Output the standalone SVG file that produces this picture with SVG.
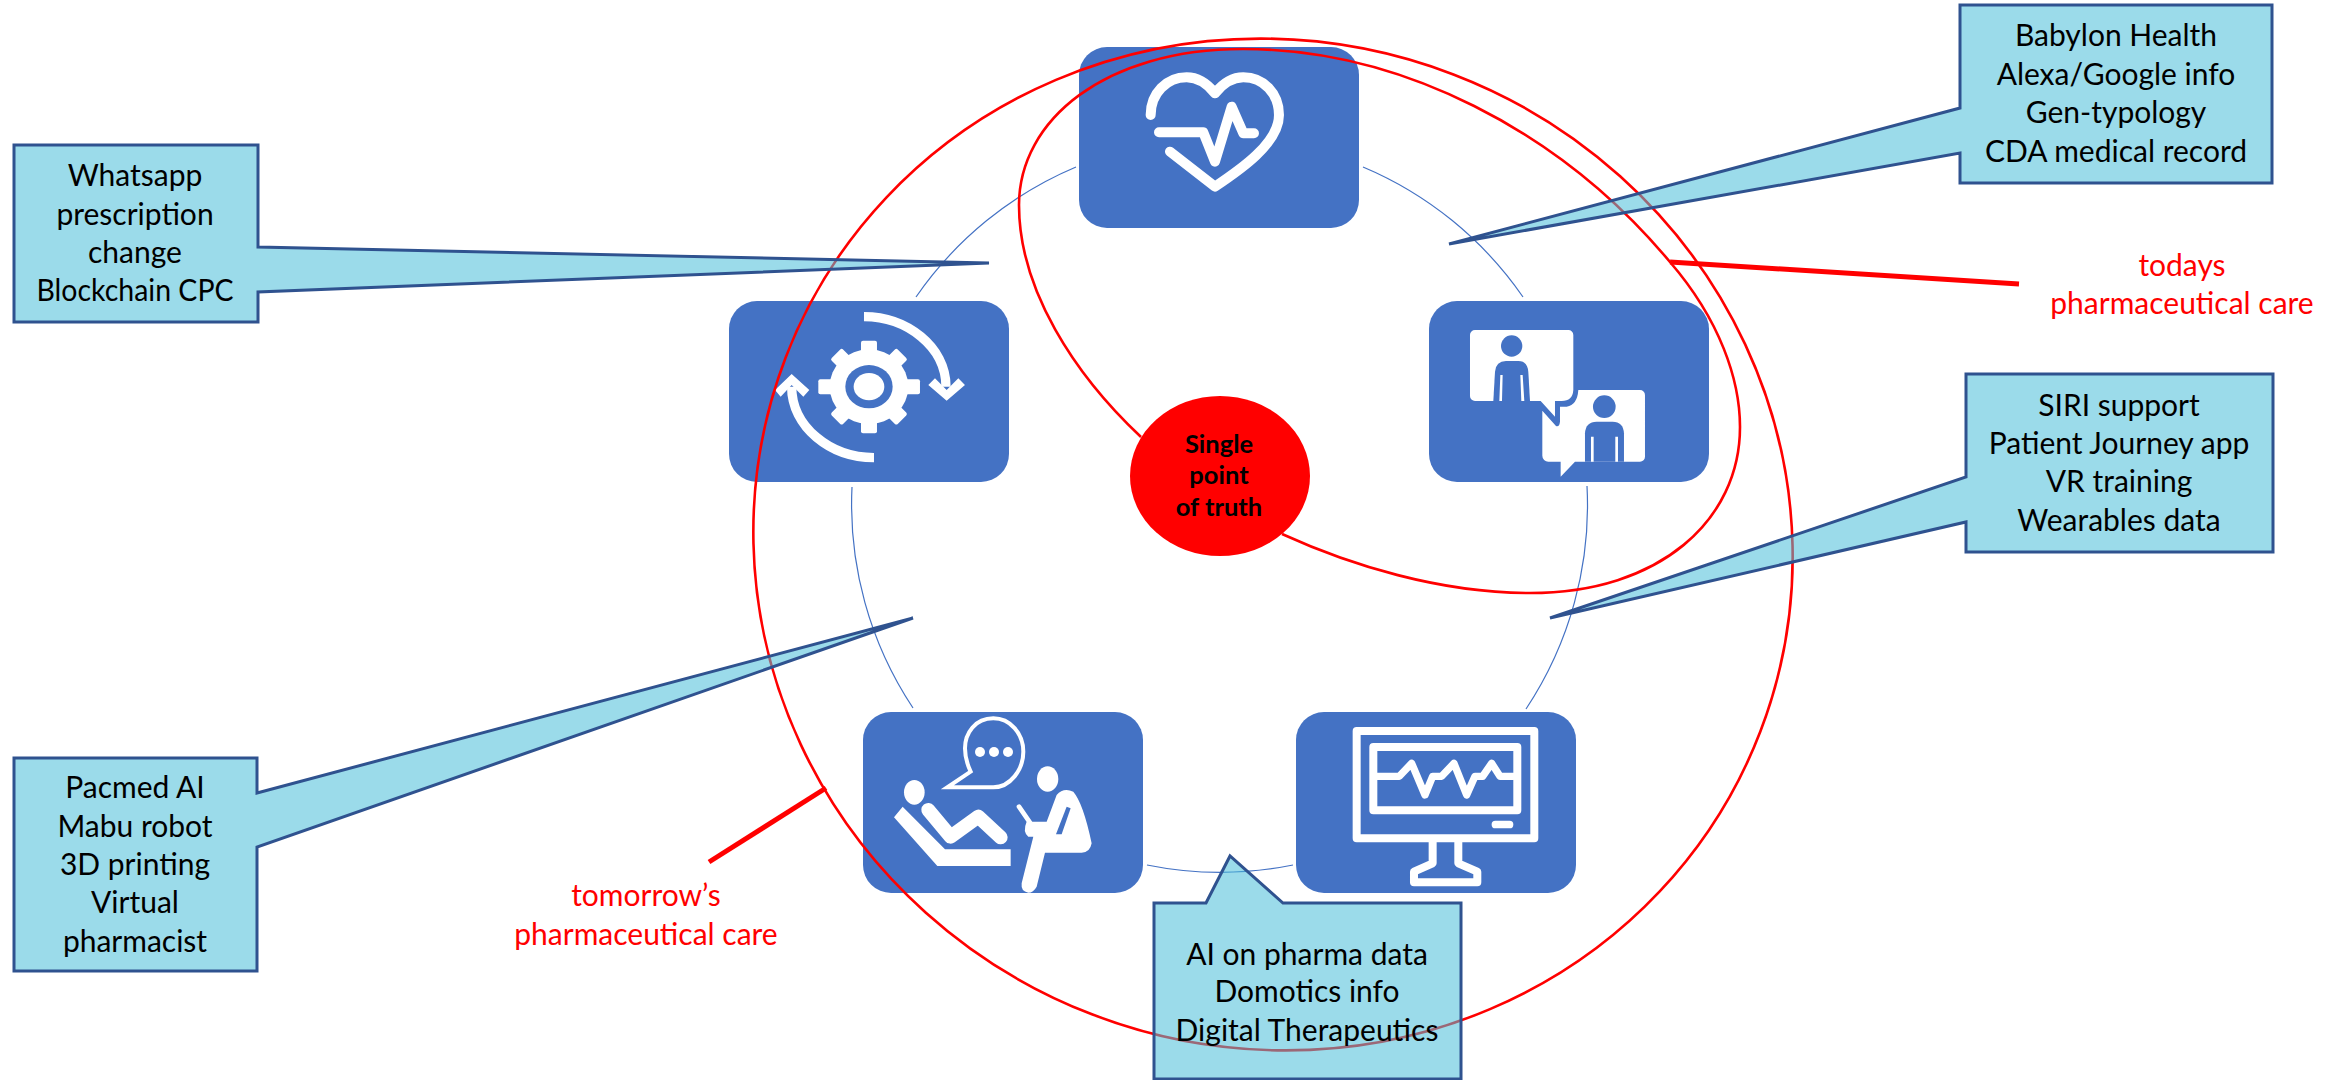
<svg xmlns="http://www.w3.org/2000/svg" width="2338" height="1080" viewBox="0 0 2338 1080">
<style>
.node{fill:#4472c4}
.ic{fill:#fff}
.icb{fill:#4472c4}
.ls{fill:none;stroke:#fff;stroke-linecap:round;stroke-linejoin:round}
.ring{fill:none;stroke:#4472c4;stroke-width:1.2}
.loop{fill:none;stroke:#f00;stroke-width:2.6}
.lead{stroke:#f00;stroke-width:5;fill:none}
.co{fill:#49bed9;fill-opacity:.55;stroke:#2f528f;stroke-width:3;stroke-linejoin:miter}
text{font-family:"Lato","Liberation Sans",sans-serif;text-anchor:middle}
.t{font-size:30px;fill:#000}
.r{font-size:30px;fill:#f00}
.b{font-size:25.5px;font-weight:700;fill:#000}
</style>
<rect width="2338" height="1080" fill="#fff"/>
<g id="connectors">
<path class="ring" d="M1363 167A368 368 0 0 1 1523 297"/>
<path class="ring" d="M1587 486A368 368 0 0 1 1526 709"/>
<path class="ring" d="M1293 865A368 368 0 0 1 1147 865"/>
<path class="ring" d="M913 708A368 368 0 0 1 852 487"/>
<path class="ring" d="M916 297A368 368 0 0 1 1076 167"/>
</g>
<g id="node-heart">
<rect class="node" x="1079" y="47" width="280" height="181" rx="28"/>
<g transform="translate(1060 30) scale(.3333)">
<path class="ls" stroke-width="30" d="M272 255C272 190 320 142 380 142C420 142 445 165 465 190C485 165 510 142 550 142C610 142 657 190 657 255C657 340 540 420 465 470L330 365"/>
<path class="ls" stroke-width="30" d="M297 307L430 307L465 395L515 230L550 310L582 310"/>
</g>
</g>
<g id="node-chat">
<rect class="node" x="1429" y="301" width="280" height="181" rx="28"/>
<g transform="translate(1420 290) scale(.3333)">
<path class="ic" d="M165 120H445a15 15 0 0 1 15 15V300Q458 333 425 333H405V380L362 333H165a15 15 0 0 1-15-15V135a15 15 0 0 1 15-15Z"/>
<circle class="icb" cx="275" cy="168" r="32"/>
<path class="icb" d="M220 333L225 245Q228 213 258 213H295Q322 213 325 245L330 333Z"/>
<path class="ic" d="M238 333L241 255H248L246 333ZM304 333L301 255H308L313 333Z"/>
<path class="ic" d="M475 300H660a15 15 0 0 1 15 15V500a15 15 0 0 1-15 15H465L422 560V515H385a18 18 0 0 1-18-18V362L408 408Q418 412 420 395V350H440Q472 345 475 300Z"/>
<circle class="icb" cx="553" cy="350" r="34"/>
<path class="icb" d="M495 515V430Q497 395 530 395H578Q610 395 612 430V515Z"/>
<path class="ic" d="M513 440H521V515H513ZM586 440H594V515H586Z"/>
</g>
</g>
<g id="node-gear">
<rect class="node" x="729" y="301" width="280" height="181" rx="28"/>
<g transform="translate(720 290) scale(.3333)">
<ellipse class="ic" cx="447" cy="290" rx="118" ry="112"/>
<g class="ic">
<rect x="423" y="152" width="48" height="278" rx="6"/>
<rect x="295" y="268" width="305" height="45" rx="6"/>
<rect x="423" y="150" width="48" height="280" rx="6" transform="rotate(45 447 290)"/>
<rect x="423" y="150" width="48" height="280" rx="6" transform="rotate(-45 447 290)"/>
</g>
<ellipse class="icb" cx="447" cy="290" rx="71" ry="65"/>
<ellipse class="ic" cx="447" cy="290" rx="46" ry="41"/>
<path fill="none" stroke="#fff" stroke-width="28" d="M432 80C560 80 678 170 678 290"/>
<path class="ic" d="M625 285L645 265L680 300L715 265L735 285L680 332Z"/>
<path fill="none" stroke="#fff" stroke-width="28" d="M462 503C330 503 215 410 215 290"/>
<path class="ic" d="M165 300L215 252L268 300L250 320L215 285L182 320Z"/>
</g>
</g>
<g id="node-patient">
<rect class="node" x="863" y="712" width="280" height="181" rx="28"/>
<g transform="translate(860 700) scale(.3333)">
<path fill="none" stroke="#fff" stroke-width="12" stroke-linejoin="miter" d="M400 55C345 55 315 100 315 145C315 175 325 200 332 215L262 262H400C450 262 490 210 490 155C490 100 450 55 400 55Z"/>
<circle class="ic" cx="360" cy="156" r="15"/><circle class="ic" cx="402" cy="156" r="15"/><circle class="ic" cx="444" cy="156" r="15"/>
<ellipse class="ic" cx="163" cy="277" rx="31" ry="37"/>
<path class="ic" d="M128 320L255 448H452V498H232L102 352Z"/>
<path class="ls" stroke-width="42" d="M205 330L272 410L355 350L422 412"/>
<ellipse class="ic" cx="563" cy="237" rx="32" ry="38"/>
<path class="ic" d="M590 285Q610 262 640 275Q670 310 695 430Q690 458 665 458H555L530 560Q520 578 505 578Q482 575 485 550L520 410H505Q487 395 500 365H560Z"/>
<path class="icb" d="M620 320L632 325L605 403H588Z"/>
<path class="ls" stroke-width="14" stroke-linecap="butt" d="M477 320L510 368"/>
</g>
</g>
<g id="node-monitor">
<rect class="node" x="1296" y="712" width="280" height="181" rx="28"/>
<g transform="translate(1290 700) scale(.3333)">
<rect class="ls" stroke-width="24" x="200" y="93" width="533" height="322"/>
<rect class="ls" stroke-width="24" x="250" y="141" width="432" height="190"/>
<path class="ls" stroke-width="22" d="M262 229H328L365 190L405 285L428 229H455L492 190L530 285L555 229H578L605 190L630 229H670"/>
<rect class="ic" x="605" y="362" width="65" height="23" rx="11"/>
<path class="ls" stroke-width="24" d="M428 427V490L372 515V547H562V515L505 490V427"/>
</g>
</g>
<g id="loops">
<ellipse id="tomorrow-loop" class="loop" cx="1273" cy="544.5" rx="522" ry="503.5" transform="rotate(21 1273 544.5)"/>
<path id="today-loop" class="loop" d="M1141 437C1075 375 1019 290 1019 205C1019 120 1105 49 1243 49C1400 49 1560 130 1670 262C1720 320 1740 380 1740 427C1740 520 1660 593 1530 593C1440 593 1350 565 1282 534"/>
</g>
<g id="node-truth">
<ellipse cx="1220" cy="476" rx="90" ry="80" fill="#f00"/>
<text class="b" x="1219" y="453">Single</text>
<text class="b" x="1219" y="484">point</text>
<text class="b" x="1219" y="516">of truth</text>
</g>
<g id="callout-whatsapp">
<path class="co" d="M14 145H258V247L989 263L258 292V322H14Z"/>
<text class="t" x="135" y="186">Whatsapp</text>
<text class="t" x="135" y="225">prescription</text>
<text class="t" x="135" y="263">change</text>
<text class="t" x="135" y="301" textLength="197" lengthAdjust="spacingAndGlyphs">Blockchain CPC</text>
</g>
<g id="callout-babylon">
<path class="co" d="M1960 5H2272V183H1960V153L1449 244L1960 108Z"/>
<text class="t" x="2116" y="46">Babylon Health</text>
<text class="t" x="2116" y="85">Alexa/Google info</text>
<text class="t" x="2116" y="123">Gen-typology</text>
<text class="t" x="2116" y="162">CDA medical record</text>
</g>
<g id="callout-siri">
<path class="co" d="M1966 374H2273V552H1966V522L1550 618L1966 477Z"/>
<text class="t" x="2119" y="416">SIRI support</text>
<text class="t" x="2119" y="454">Patient Journey app</text>
<text class="t" x="2119" y="492">VR training</text>
<text class="t" x="2119" y="531">Wearables data</text>
</g>
<g id="callout-pacmed">
<path class="co" d="M14 758H257V793L913 618L257 847V971H14Z"/>
<text class="t" x="135" y="798">Pacmed AI</text>
<text class="t" x="135" y="837">Mabu robot</text>
<text class="t" x="135" y="875">3D printing</text>
<text class="t" x="135" y="913">Virtual</text>
<text class="t" x="135" y="952">pharmacist</text>
</g>
<g id="callout-domotics">
<path class="co" d="M1154 903H1206L1230 856L1283 903H1461V1079H1154Z"/>
<text class="t" x="1307" y="965">AI on pharma data</text>
<text class="t" x="1307" y="1002">Domotics info</text>
<text class="t" x="1307" y="1041">Digital Therapeutics</text>
</g>
<g id="label-today">
<path class="lead" d="M1670 262L2019 284"/>
<text class="r" x="2182" y="276">todays</text>
<text class="r" x="2182" y="314">pharmaceutical care</text>
</g>
<g id="label-tomorrow">
<path class="lead" d="M826 788L709 862"/>
<text class="r" x="646" y="906">tomorrow’s</text>
<text class="r" x="646" y="945">pharmaceutical care</text>
</g>
</svg>
